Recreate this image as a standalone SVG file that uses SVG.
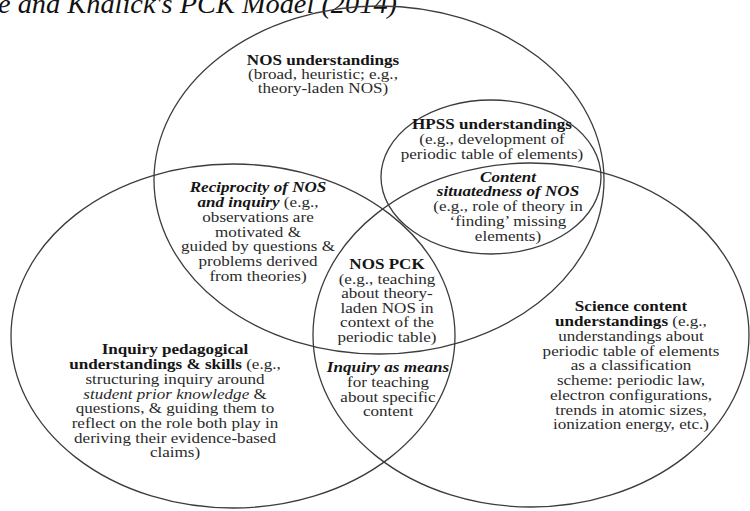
<svg xmlns="http://www.w3.org/2000/svg" width="750" height="511" viewBox="0 0 750 511">
<style>
.c{fill:none;stroke:#3c3c3c;stroke-width:1.3}
.t{font-family:"Liberation Serif","Times New Roman",serif;font-size:14px;fill:#2a2a2a;text-anchor:middle}
.b{font-weight:bold;fill:#151515}
.bi{font-weight:bold;font-style:italic;fill:#151515}
.i{font-style:italic}
.title{font-family:"Liberation Serif","Times New Roman",serif;font-size:27px;font-style:italic;fill:#111}
</style>
<rect width="750" height="511" fill="#fff"/>
<text class="title" x="-2" y="13" textLength="399" lengthAdjust="spacingAndGlyphs">e and Khalick's PCK Model (2014)</text>
<g id="connectors">
<ellipse id="nos-circle" class="c" cx="379" cy="180" rx="225" ry="174"/>
<ellipse id="inquiry-circle" class="c" cx="233" cy="336" rx="222" ry="172"/>
<ellipse id="science-circle" class="c" cx="531" cy="335" rx="218" ry="172"/>
<ellipse id="hpss-circle" class="c" cx="491" cy="177" rx="110" ry="77"/>
</g>
<g id="nos-understandings" class="t" transform="translate(323 0) scale(1.22 1)">
<text x="0" y="65" class="b">NOS understandings</text>
<text x="0" y="79">(broad, heuristic; e.g.,</text>
<text x="0" y="93">theory-laden NOS)</text>
</g>
<g id="hpss-understandings" class="t" transform="translate(492 0) scale(1.22 1)">
<text x="0" y="129.5" class="b">HPSS understandings</text>
<text x="0" y="144.5">(e.g., development of</text>
<text x="0" y="159.5">periodic table of elements)</text>
</g>
<g id="content-situatedness" class="t" transform="translate(508 0) scale(1.22 1)">
<text x="0" y="182" class="bi">Content</text>
<text x="0" y="196.5" class="bi">situatedness of NOS</text>
<text x="0" y="211.5">(e.g., role of theory in</text>
<text x="0" y="226">‘finding’ missing</text>
<text x="0" y="241">elements)</text>
</g>
<g id="reciprocity" class="t" transform="translate(258 0) scale(1.22 1)">
<text x="0" y="192.5" class="bi">Reciprocity of NOS</text>
<text x="0" y="207.2"><tspan class="bi">and inquiry</tspan> (e.g.,</text>
<text x="0" y="221.9">observations are</text>
<text x="0" y="236.6">motivated &amp;</text>
<text x="0" y="251.3">guided by questions &amp;</text>
<text x="0" y="266">problems derived</text>
<text x="0" y="280.7">from theories)</text>
</g>
<g id="nos-pck" class="t" transform="translate(387 0) scale(1.22 1)">
<text x="0" y="269" class="b">NOS PCK</text>
<text x="0" y="283.6">(e.g., teaching</text>
<text x="0" y="298.2">about theory-</text>
<text x="0" y="312.8">laden NOS in</text>
<text x="0" y="327.4">context of the</text>
<text x="0" y="342">periodic table)</text>
</g>
<g id="inquiry-as-means" class="t" transform="translate(388 0) scale(1.22 1)">
<text x="0" y="372.5" class="bi">Inquiry as means</text>
<text x="0" y="387">for teaching</text>
<text x="0" y="402">about specific</text>
<text x="0" y="416.5">content</text>
</g>
<g id="inquiry-pedagogical" class="t" transform="translate(175 0) scale(1.22 1)">
<text x="0" y="354.5" class="b">Inquiry pedagogical</text>
<text x="0" y="369.2"><tspan class="b">understandings &amp; skills</tspan> (e.g.,</text>
<text x="0" y="383.9">structuring inquiry around</text>
<text x="0" y="398.6"><tspan class="i">student prior knowledge</tspan> &amp;</text>
<text x="0" y="413.3">questions, &amp; guiding them to</text>
<text x="0" y="428">reflect on the role both play in</text>
<text x="0" y="442.7">deriving their evidence-based</text>
<text x="0" y="457.4">claims)</text>
</g>
<g id="science-content" class="t" transform="translate(631 0) scale(1.22 1)">
<text x="0" y="311.5" class="b">Science content</text>
<text x="0" y="326.2"><tspan class="b">understandings</tspan> (e.g.,</text>
<text x="0" y="341">understandings about</text>
<text x="0" y="355.7">periodic table of elements</text>
<text x="0" y="370.5">as a classification</text>
<text x="0" y="385.2">scheme: periodic law,</text>
<text x="0" y="400">electron configurations,</text>
<text x="0" y="414.7">trends in atomic sizes,</text>
<text x="0" y="429.5">ionization energy, etc.)</text>
</g>
</svg>
